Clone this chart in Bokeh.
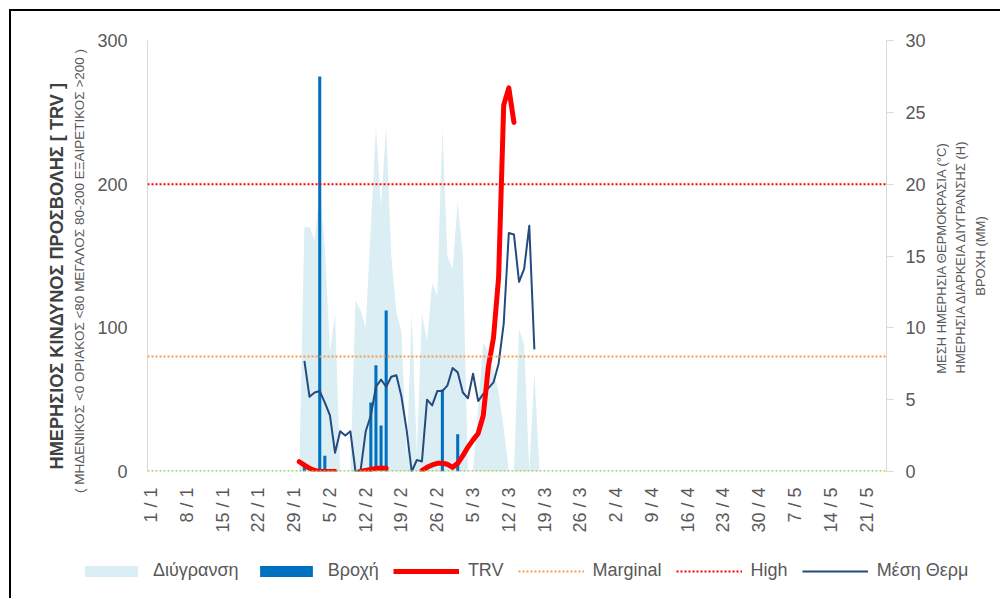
import math
import numpy as np
from bokeh.plotting import figure
from bokeh.layouts import row
from bokeh.models import (Range1d, LinearAxis, FixedTicker, Span, Label,
                          Legend, LegendItem, ColumnDataSource)
from bokeh.embed import file_html
from bokeh.resources import INLINE

# ---------------- data (one value per day, first value = 30 January) ----------------
first_day = 29  # days after 1 January

wetness_h = [0.0, 17.0, 17.0, 16.1, 19.6, 15.6, 8.3, 11.0, 0.0, 0.0,
             0.0, 11.9, 11.2, 10.0, 17.0, 24.0, 18.5, 24.0, 15.0, 11.1,
             9.7, 1.0, 11.0, 1.3, 11.0, 9.1, 13.1, 12.2, 23.9, 15.0,
             14.1, 18.8, 15.0, 0.0, 0.0, 4.5, 9.0, 8.3, 7.0, 5.5,
             3.0, 0.0, 0.0, 9.9, 8.9, 0.0, 6.9, 0.0]

rain_mm = [0.0, 0.4, 0.0, 0.0, 27.5, 1.1, 0.0, 0.0, 0.0, 0.0,
           0.0, 0.0, 0.0, 0.0, 4.8, 7.4, 3.2, 11.2, 0.0, 0.0,
           0.0, 0.0, 0.0, 0.0, 0.0, 0.0, 0.0, 0.0, 5.7, 0.0,
           0.0, 2.6, 0.0, 0.0, 0.0, 0.0, 0.0, 0.0, 0.0, 0.0,
           0.0, 0.0, 0.0, 0.0, 0.0, 0.0, 0.0, 0.0]

temp_c = [None, 7.7, 5.2, 5.5, 5.6, 4.8, 3.9, 1.3, 2.8, 2.5,
          2.8, 0.0, 0.1, 2.8, 3.9, 5.9, 6.4, 5.9, 6.6, 6.7,
          5.2, 2.9, 0.0, 0.8, 0.7, 5.0, 4.6, 5.6, 5.6, 6.0,
          7.2, 6.9, 5.5, 5.1, 6.8, 4.9, 5.4, 5.8, 6.2, 7.5,
          10.3, 16.6, 16.5, 13.2, 14.1, 17.1, 8.5, None]

trv = [6.8, 4.5, 2.2, 0.7, 0.0, 0.0, 0.0, 0.0, None, None,
       None, None, 0.0, 0.8, 1.5, 2.2, 2.2, 2.2, None, None,
       None, None, None, None, 0.6, 2.9, 4.6, 5.7, 5.7, 5.0,
       2.9, 5.7, 11.0, 17.0, 22.0, 26.5, 39.0, 73.0, 93.0, 135.0,
       255.0, 267.0, 243.0, None, None, None, None, None]

tick_labels = ["1 / 1", "8 / 1", "15 / 1", "22 / 1", "29 / 1", "5 / 2", "12 / 2",
               "19 / 2", "26 / 2", "5 / 3", "12 / 3", "19 / 3", "26 / 3", "2 / 4",
               "9 / 4", "16 / 4", "23 / 4", "30 / 4", "7 / 5", "14 / 5", "21 / 5"]

left_ticks = [0, 100, 200, 300]
right_ticks = [0, 5, 10, 15, 20, 25, 30]
marginal_level = 80
high_level = 200
low_level = 0

# ---------------- styles ----------------
FONT = "Liberation Sans"
GREY = "#595959"
NB = "\u00a0"
C_WET, C_RAIN, C_TRV, C_TEMP = "#DAEEF3", "#0070C0", "#FF0000", "#254A7E"
C_MARG, C_HIGH, C_LOW = "#F59B4E", "#FF0000", "#92D050"
TOP, BOTTOM = 29, 85

# ---------------- main figure ----------------
p = figure(width=919, height=545, x_range=Range1d(-0.7, 143.9), y_range=Range1d(0, 300),
           output_backend="svg", toolbar_location=None,
           min_border_left=136, min_border_right=44, min_border_top=TOP, min_border_bottom=BOTTOM)
p.extra_y_ranges = {"right": Range1d(0, 30)}
p.outline_line_color = None
p.xgrid.grid_line_color = None
p.ygrid.grid_line_color = None

days = np.arange(first_day, first_day + len(wetness_h))
src = ColumnDataSource(dict(
    day=days,
    wet=np.array(wetness_h, dtype=float),
    rain=np.array(rain_mm, dtype=float),
    temp=np.array(temp_c, dtype=float),
    trv=np.array(trv, dtype=float),
))

p.varea(x="day", y1=0, y2="wet", source=src, y_range_name="right", fill_color=C_WET)
p.vbar(x="day", top="rain", width=0.6, source=src, y_range_name="right",
       fill_color=C_RAIN, line_color=None)
p.line(x="day", y="temp", source=src, y_range_name="right",
       line_color=C_TEMP, line_width=2, line_join="round")
p.line(x="day", y="trv", source=src, line_color=C_TRV, line_width=5,
       line_cap="round", line_join="round")

for lvl, col in [(marginal_level, C_MARG), (high_level, C_HIGH), (low_level, C_LOW)]:
    p.add_layout(Span(location=lvl, dimension="width", line_color=col,
                      line_width=2.5 if lvl == low_level else 2, line_dash="2 2"))

# ---------------- axes ----------------
xa = p.xaxis[0]
xa.ticker = FixedTicker(ticks=list(range(0, 7 * len(tick_labels), 7)))
xa.major_label_overrides = {7 * i: t for i, t in enumerate(tick_labels)}
xa.major_label_orientation = math.pi / 2
xa.axis_line_color = None
xa.major_tick_line_color = None
xa.major_tick_out = 0
xa.major_tick_in = 0
xa.minor_tick_line_color = None
xa.minor_tick_out = 0
xa.major_label_standoff = 16
xa.major_label_text_font = FONT
xa.major_label_text_font_size = "18px"
xa.major_label_text_color = GREY


def style_title(ax, text, size, color, standoff, bold=False):
    ax.axis_label = text
    ax.axis_label_text_font = FONT
    ax.axis_label_text_font_size = size
    ax.axis_label_text_color = color
    ax.axis_label_text_font_style = "bold" if bold else "normal"
    ax.axis_label_standoff = standoff


ya = p.yaxis[0]
ya.ticker = FixedTicker(ticks=left_ticks)
ya.axis_line_color = "#D9D9D9"
ya.major_tick_line_color = None
ya.major_tick_out = 0
ya.major_tick_in = 0
ya.minor_tick_line_color = None
ya.minor_tick_out = 0
ya.major_label_standoff = 20
ya.major_label_text_font = FONT
ya.major_label_text_font_size = "18px"
ya.major_label_text_color = GREY
style_title(ya, "( ΜΗΔΕΝΙΚΟΣ <0 ΟΡΙΑΚΟΣ <80   ΜΕΓΑΛΟΣ 80-200  ΕΞΑΙΡΕΤΙΚΟΣ >200 )" + NB * 5,
            "13.5px", GREY, 7)

ya2 = LinearAxis(ticker=FixedTicker(ticks=[]))
ya2.axis_line_color = None
ya2.major_tick_line_color = None
ya2.minor_tick_line_color = None
ya2.major_tick_out = 0
ya2.major_tick_in = 0
ya2.minor_tick_out = 0
ya2.major_label_standoff = 0
style_title(ya2, "ΗΜΕΡΗΣΙΟΣ ΚΙΝΔΥΝΟΣ  ΠΡΟΣΒΟΛΗΣ  [ TRV ]" + NB * 6, "18.2px", "#404040", 3, bold=True)
p.add_layout(ya2, "left")

ra = LinearAxis(y_range_name="right", ticker=FixedTicker(ticks=right_ticks))
ra.axis_line_color = "#D9D9D9"
ra.major_tick_line_color = "#D9D9D9"
ra.major_tick_out = 7
ra.major_tick_in = 0
ra.minor_tick_line_color = None
ra.minor_tick_out = 0
ra.major_label_standoff = 12
ra.major_label_text_font = FONT
ra.major_label_text_font_size = "18px"
ra.major_label_text_color = GREY
p.add_layout(ra, "right")

# ---------------- right-hand axis titles (own narrow strip) ----------------
rt = figure(width=70, height=545, x_range=Range1d(0, 70), y_range=Range1d(0, 1),
            output_backend="svg", toolbar_location=None,
            x_axis_location=None, y_axis_location=None,
            min_border_left=0, min_border_right=0, min_border_top=TOP, min_border_bottom=BOTTOM)
rt.outline_line_color = None
rt.xgrid.grid_line_color = None
rt.ygrid.grid_line_color = None
right_titles = ["ΜΕΣΗ ΗΜΕΡΗΣΙΑ  ΘΕΡΜΟΚΡΑΣΙΑ (°C)",
                "ΗΜΕΡΗΣΙΑ ΔΙΑΡΚΕΙΑ ΔΙΥΓΡΑΝΣΗΣ (H)",
                "ΒΡΟΧΗ (MM)"]
for t, xpos in zip(right_titles, [11, 30, 50]):
    rt.add_layout(Label(x=xpos, y=0.5, text=t, angle=math.pi / 2,
                        text_align="center", text_baseline="middle",
                        text_font=FONT, text_font_size="13px", text_color=GREY))

top_row = row(p, rt, spacing=0)
top_row.styles = {"margin-left": "9px", "margin-top": "9px",
                  "border-top": "2px solid black", "border-left": "2px solid black"}

# ---------------- legend strip ----------------
lg = figure(width=989, height=42, x_range=Range1d(0, 1), y_range=Range1d(0, 1),
            output_backend="svg", toolbar_location=None,
            x_axis_location=None, y_axis_location=None,
            min_border_left=0, min_border_right=0, min_border_top=0, min_border_bottom=0)
lg.outline_line_color = None
lg.xgrid.grid_line_color = None
lg.ygrid.grid_line_color = None
lg.styles = {"margin-left": "9px", "border-left": "2px solid black"}

key = ColumnDataSource(dict(x=np.array([np.nan]), y=np.array([np.nan]), y0=np.array([np.nan])))
g_wet = lg.varea(x="x", y1="y0", y2="y", source=key, fill_color=C_WET)
g_rain = lg.vbar(x="x", top="y", width=0.5, source=key, fill_color=C_RAIN, line_color=None)
g_trv = lg.line(x="x", y="y", source=key, line_color=C_TRV, line_width=5)
g_marg = lg.line(x="x", y="y", source=key, line_color=C_MARG, line_width=2, line_dash="2 2")
g_high = lg.line(x="x", y="y", source=key, line_color=C_HIGH, line_width=2, line_dash="2 2")
g_temp = lg.line(x="x", y="y", source=key, line_color=C_TEMP, line_width=2)

legend = Legend(items=[
    LegendItem(label="Διύγρανση", renderers=[g_wet]),
    LegendItem(label="Βροχή", renderers=[g_rain]),
    LegendItem(label="TRV", renderers=[g_trv]),
    LegendItem(label="Marginal", renderers=[g_marg]),
    LegendItem(label="High", renderers=[g_high]),
    LegendItem(label="Μέση Θερμ", renderers=[g_temp]),
], orientation="horizontal", location=(67, 17),
    glyph_width=66, glyph_height=14, label_standoff=9, spacing=14,
    padding=0, margin=0, border_line_color=None, background_fill_alpha=0,
    label_text_font=FONT, label_text_font_size="18px", label_text_color=GREY)
lg.add_layout(legend)

open("out.html", "w").write(file_html([top_row, lg], INLINE))
